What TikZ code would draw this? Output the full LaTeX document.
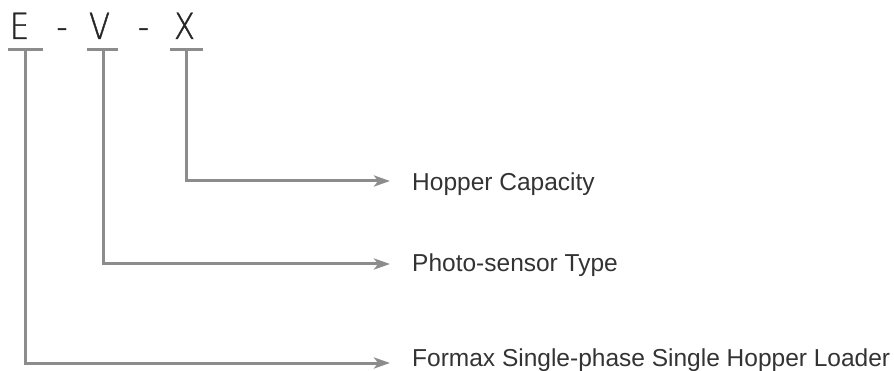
\documentclass[tikz,border=0pt]{standalone}
\usepackage{fontspec}
\setmainfont{Liberation Sans}
\newfontfamily\codefont[FakeStretch=0.85,FakeBold=1.2]{DejaVu Sans ExtraLight}
\usetikzlibrary{arrows.meta}
\begin{document}
\begin{tikzpicture}[x=1pt, y=-1pt,
                    code/.style = {font=\codefont\fontsize{36}{36}\selectfont,
                                   text=black!85,
                                   inner sep=0pt,
                                   anchor=base},
                    bar/.style = {draw=black!45, line width=3pt},
                    lead/.style = {draw=black!45, line width=3pt,
                                   -{Stealth[length=16pt,width=11pt,inset=4pt]}},
                    desc/.style = {font=\fontsize{24.5}{24.5}\selectfont,
                                   text=black!80,
                                   inner sep=0pt,
                                   anchor=base west}]
	\useasboundingbox (0,0) rectangle (894,371);
	% model code
	\node[code] (e) at (19.5,39) {E};
	\node[code] (d1) at (62,39) {-};
	\node[code] (v) at (99.5,39) {V};
	\node[code] (d2) at (143.5,39) {-};
	\node[code] (x) at (184.5,39) {X};
	% bars under the letters
	\draw[bar] (8,50) -- (43,50);
	\draw[bar] (87,50) -- (118,50);
	\draw[bar] (170,50) -- (203,50);
	\coordinate (eBar) at (25,50);
	\coordinate (vBar) at (103.5,50);
	\coordinate (xBar) at (186,50);
	% descriptions
	\node[desc] (hopper) at (412,191) {Hopper Capacity};
	\node[desc] (sensor) at (412,272) {Photo-sensor Type};
	\node[desc] (loader) at (412,366) {Formax Single-phase Single Hopper Loader};
	\coordinate (hopperTip) at (390,181);
	\coordinate (sensorTip) at (390,264);
	\coordinate (loaderTip) at (390,363);
	\draw[lead] (xBar) |- (hopperTip);
	\draw[lead] (vBar) |- (sensorTip);
	\draw[lead] (eBar) |- (loaderTip);
\end{tikzpicture}
\end{document}
